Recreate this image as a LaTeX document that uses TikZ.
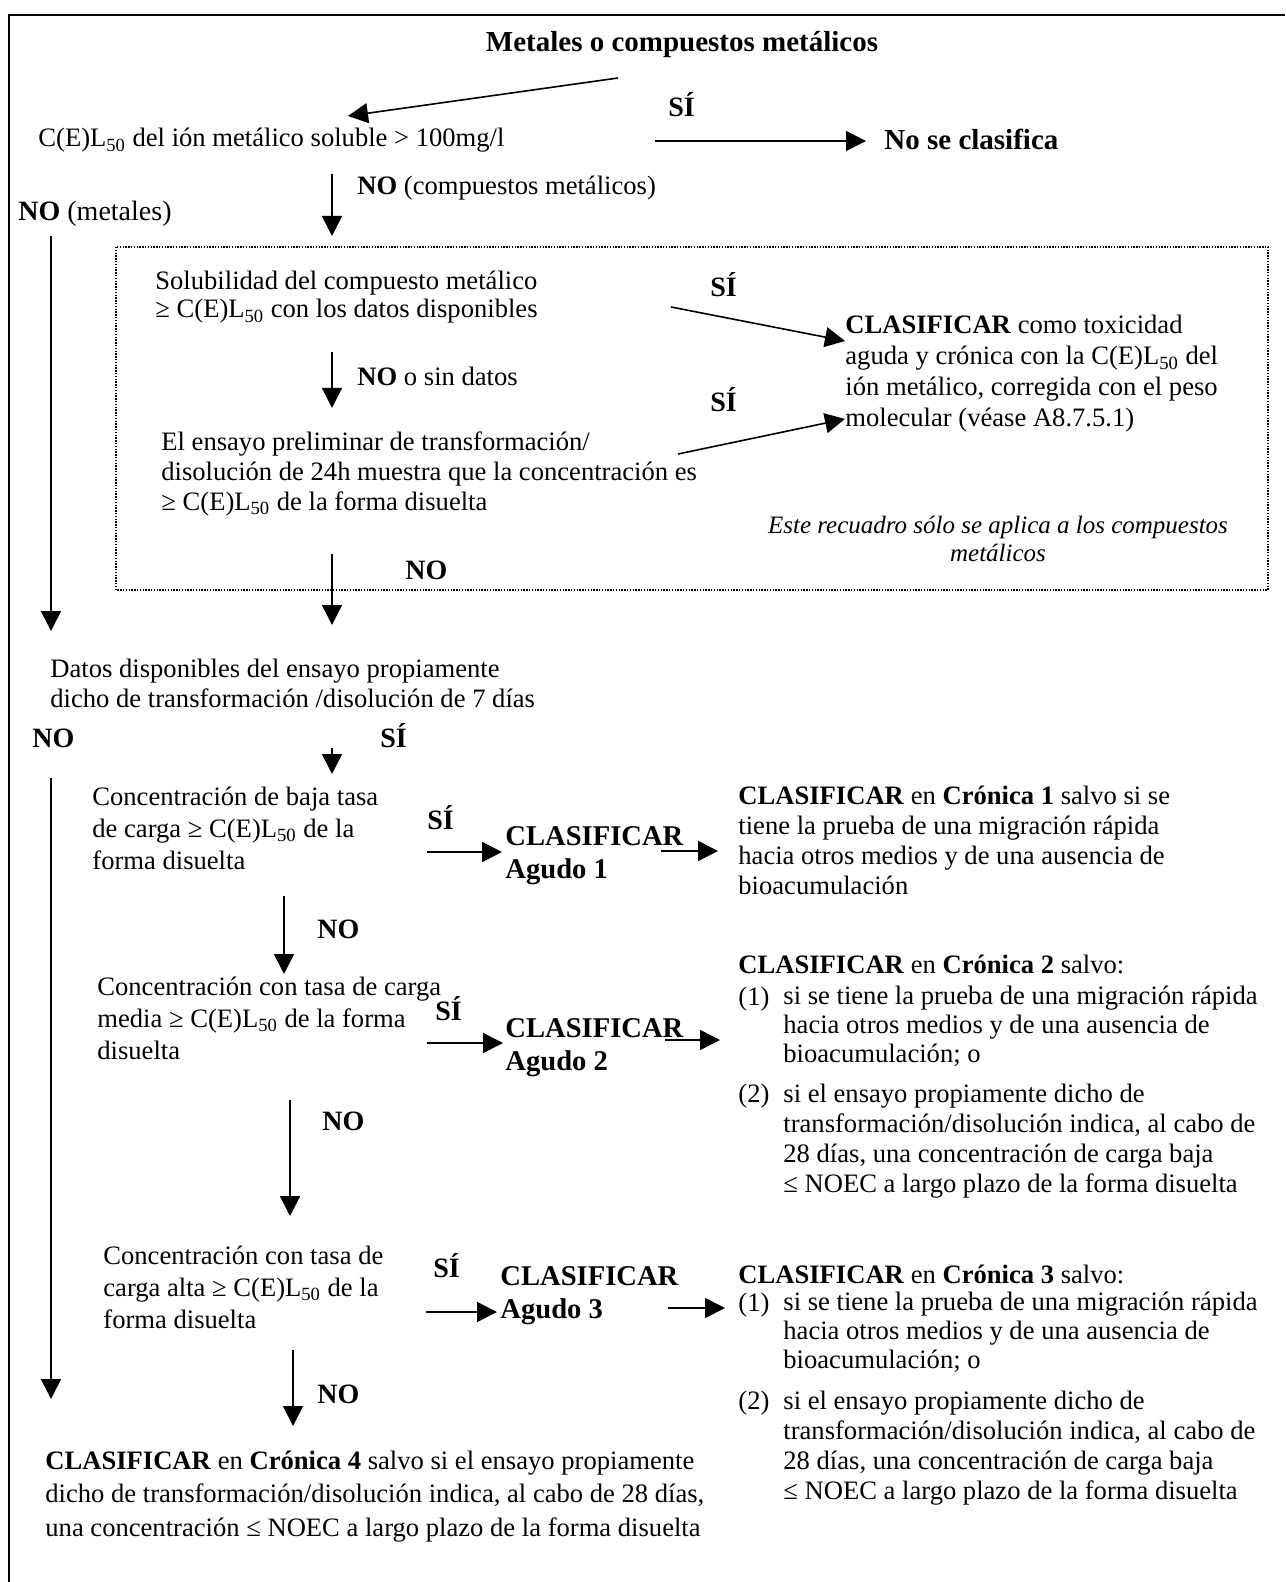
\documentclass[tikz,border=0pt]{standalone}
\usepackage{fontspec}
\setmainfont{Liberation Serif}
\usetikzlibrary{arrows.meta}
\newcommand{\cel}{C(E)L\textsubscript{50}}

\begin{document}
\begin{tikzpicture}[x=0.5pt,y=-0.5pt,
  txt/.style={anchor=base west,inner sep=0pt,align=left,font=\fontsize{13.3}{15}\selectfont},
  lbl/.style={anchor=base west,inner sep=0pt,font=\fontsize{14}{16}\selectfont\bfseries},
  big/.style={anchor=base west,inner sep=0pt,align=left,font=\fontsize{14.3}{16.5}\selectfont\bfseries},
  arr/.style={-{Triangle[length=10pt,width=10pt]},line width=0.8pt}]

  \useasboundingbox (0,0) rectangle (1285,1582);
  \draw[line width=1pt] (1285,15) -- (9,15) -- (9,1582);

  % upper part (multi-line nodes sit on the baseline of their last line)
  \node[big,anchor=base,font=\fontsize{14.5}{16.5}\selectfont\bfseries] (title) at (682,52) {Metales o compuestos metálicos};
  \node[txt] (cel) at (38,147) {\cel{} del ión metálico soluble > 100mg/l};
  \node[lbl] (si0) at (668,117) {SÍ};
  \node[big,font=\fontsize{14.5}{16.5}\selectfont\bfseries] (nocl) at (884,150) {No se clasifica};
  \node[txt] (nocomp) at (357,195) {\textbf{NO} (compuestos metálicos)};
  \node[txt,font=\fontsize{14}{16}\selectfont] (nomet) at (18,221) {\textbf{NO} (metales)};

  % dotted box
  \draw[line width=0.6pt,dash pattern=on 0.7pt off 0.7pt] (116,247) rectangle (1268,590);
  \node[txt,font=\fontsize{13.3}{14}\selectfont] (sol) at (155,318) {Solubilidad del compuesto metálico\\≥ \cel{} con los datos disponibles};
  \node[lbl] (si1) at (710,297) {SÍ};
  \node[txt,font=\fontsize{13.3}{15.5}\selectfont] (clasA) at (845,427) {\textbf{CLASIFICAR} como toxicidad\\aguda y crónica con la \cel{} del\\ión metálico, corregida con el peso\\molecular (véase A8.7.5.1)};
  \node[txt] (nosin) at (357,386) {\textbf{NO} o sin datos};
  \node[lbl] (si2) at (710,412) {SÍ};
  \node[txt,font=\fontsize{13.3}{14.75}\selectfont] (ensayo) at (161,510) {El ensayo preliminar de transformación/\\disolución de 24h muestra que la concentración es\\≥ \cel{} de la forma disuelta};
  \node[anchor=base,inner sep=0pt,align=center,font=\fontsize{12.5}{14}\selectfont\itshape] (nota) at (998,561) {Este recuadro sólo se aplica a los compuestos\\metálicos};
  \node[lbl] (nobox) at (405,579) {NO};

  % 7 days test
  \node[txt] (datos) at (50,707) {Datos disponibles del ensayo propiamente\\dicho de transformación /disolución de 7 días};
  \node[lbl] (no2) at (32,747) {NO};
  \node[lbl] (si3) at (380,747) {SÍ};

  \node[txt,font=\fontsize{13.3}{15.8}\selectfont] (conc1) at (92,869) {Concentración de baja tasa\\de carga ≥ \cel{} de la\\forma disuelta};
  \node[lbl] (si4) at (427,829) {SÍ};
  \node[big] (ag1) at (505,878) {CLASIFICAR\\Agudo 1};
  \node[txt] (cr1) at (738,894) {\textbf{CLASIFICAR} en \textbf{Crónica 1} salvo si se\\tiene la prueba de una migración rápida\\hacia otros medios y de una ausencia de\\bioacumulación};
  \node[lbl] (no3) at (317,938) {NO};

  \node[txt,font=\fontsize{13.3}{16}\selectfont] (conc2) at (97,1059) {Concentración con tasa de carga\\media ≥ \cel{} de la forma\\disuelta};
  \node[lbl] (si5) at (435,1020) {SÍ};
  \node[big] (ag2) at (505,1070) {CLASIFICAR\\Agudo 2};
  \node[txt] (cr2) at (738,973) {\textbf{CLASIFICAR} en \textbf{Crónica 2} salvo:};
  \node[txt] (cr2a) at (738,1005) {(1)};
  \node[txt,font=\fontsize{13.3}{14.3}\selectfont] (cr2at) at (783,1062) {si se tiene la prueba de una migración rápida\\hacia otros medios y de una ausencia de\\bioacumulación; o};
  \node[txt] (cr2b) at (738,1102) {(2)};
  \node[txt] (cr2bt) at (783,1192) {si el ensayo propiamente dicho de\\transformación/disolución indica, al cabo de\\28 días, una concentración de carga baja\\≤ NOEC a largo plazo de la forma disuelta};
  \node[lbl] (no4) at (322,1130) {NO};

  \node[txt,font=\fontsize{13.3}{15.8}\selectfont] (conc3) at (103,1328) {Concentración con tasa de\\carga alta ≥ \cel{} de la\\forma disuelta};
  \node[lbl] (si6) at (433,1277) {SÍ};
  \node[big] (ag3) at (500,1318) {CLASIFICAR\\Agudo 3};
  \node[txt] (cr3) at (738,1283) {\textbf{CLASIFICAR} en \textbf{Crónica 3} salvo:};
  \node[txt] (cr3a) at (738,1311) {(1)};
  \node[txt,font=\fontsize{13.3}{14.3}\selectfont] (cr3at) at (783,1368) {si se tiene la prueba de una migración rápida\\hacia otros medios y de una ausencia de\\bioacumulación; o};
  \node[txt] (cr3b) at (738,1409) {(2)};
  \node[txt] (cr3bt) at (783,1499) {si el ensayo propiamente dicho de\\transformación/disolución indica, al cabo de\\28 días, una concentración de carga baja\\≤ NOEC a largo plazo de la forma disuelta};
  \node[lbl] (no5) at (317,1403) {NO};
  \node[txt,font=\fontsize{13.3}{16.75}\selectfont] (cr4) at (45,1536) {\textbf{CLASIFICAR} en \textbf{Crónica 4} salvo si el ensayo propiamente\\dicho de transformación/disolución indica, al cabo de 28 días,\\una concentración ≤ NOEC a largo plazo de la forma disuelta};

  % arrow ends
  \coordinate (aS) at (618,78);   \coordinate (aE) at (348,116);
  \coordinate (bS) at (655,141);  \coordinate (bE) at (866,141);
  \coordinate (cS) at (332,174);  \coordinate (cE) at (332,236);
  \coordinate (dS) at (51,236);   \coordinate (dE) at (51,631);
  \coordinate (eS) at (671,307);  \coordinate (eE) at (845,341);
  \coordinate (fS) at (332,352);  \coordinate (fE) at (332,408);
  \coordinate (gS) at (678,454);  \coordinate (gE) at (845,419);
  \coordinate (hS) at (332,554);  \coordinate (hE) at (332,625);
  \coordinate (iS) at (332,748);  \coordinate (iE) at (332,774);
  \coordinate (jS) at (51,778);   \coordinate (jE) at (51,1399);
  \coordinate (kS) at (427,852);  \coordinate (kE) at (502,852);
  \coordinate (k2S) at (661,851); \coordinate (k2E) at (718,851);
  \coordinate (lS) at (284,896);  \coordinate (lE) at (284,974);
  \coordinate (mS) at (427,1043); \coordinate (mE) at (503,1043);
  \coordinate (m2S) at (665,1040); \coordinate (m2E) at (720,1040);
  \coordinate (nS) at (290,1100); \coordinate (nE) at (290,1216);
  \coordinate (oS) at (426,1312); \coordinate (oE) at (497,1312);
  \coordinate (o2S) at (668,1308); \coordinate (o2E) at (725,1308);
  \coordinate (pS) at (293,1350); \coordinate (pE) at (293,1426);

  \foreach \a in {a,b,c,d,e,f,g,h,i,j,k,k2,l,m,m2,n,o,o2,p}
    \draw[arr] (\a S) -- (\a E);

\end{tikzpicture}
\end{document}
